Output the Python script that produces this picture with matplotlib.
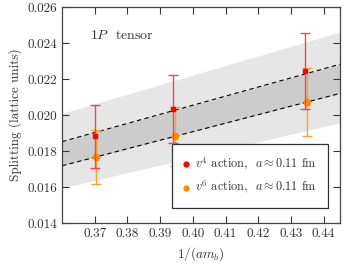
import numpy as np
import matplotlib
matplotlib.use('Agg')
import matplotlib.pyplot as plt
from matplotlib.lines import Line2D

plt.rcParams['font.family'] = 'serif'
plt.rcParams['font.serif'] = ['cmr10']
plt.rcParams['mathtext.fontset'] = 'cm'
plt.rcParams['axes.formatter.use_mathtext'] = True
plt.rcParams['font.size'] = 9.5

# v4 action, a ~ 0.11 fm
x_v4 = [0.3700, 0.3938, 0.4344]
y_v4 = [0.01883, 0.02033, 0.02245]
e_v4 = [0.00175, 0.00187, 0.00213]

# v6 action, a ~ 0.11 fm
x_v6 = [0.3703, 0.3944, 0.4350]
y_v6 = [0.01765, 0.01882, 0.02071]
e_v6 = [0.00150, 0.00164, 0.00188]

# fit lines / bands at the x-limits
x_band = [0.360, 0.445]
fit_hi = [0.01852, 0.02282]
fit_lo = [0.01718, 0.02120]
band_hi = [0.02009, 0.02461]
band_lo = [0.01594, 0.01957]

fig = plt.figure(figsize=(3.45, 2.64), dpi=100)
ax = fig.add_axes([62/345, 1-223/264, 278/345, 216/264])

ax.fill_between(x_band, band_lo, band_hi, color='#e6e6e6', lw=0, zorder=0)
ax.fill_between(x_band, fit_lo, fit_hi, color='#cccccc', lw=0, zorder=0)
ax.plot(x_band, fit_hi, 'k--', lw=0.8, dashes=(4, 3), zorder=1)
ax.plot(x_band, fit_lo, 'k--', lw=0.8, dashes=(4, 3), zorder=1)

ax.errorbar(x_v4, y_v4, yerr=e_v4, fmt='s', color='red', ms=3.5,
            ecolor='#f04848', elinewidth=1, capsize=3.5, capthick=1,
            zorder=3)
ax.errorbar(x_v6, y_v6, yerr=e_v6, fmt='o', color='#ff8c00', ms=4.5,
            ecolor='#ffa030', elinewidth=1, capsize=3.5, capthick=1,
            zorder=2)

ax.set_xlim(0.36, 0.445)
ax.set_ylim(0.014, 0.026)
ax.set_xticks(np.arange(0.37, 0.4451, 0.01))
ax.set_yticks(np.arange(0.014, 0.02601, 0.002))
ax.xaxis.set_major_formatter(matplotlib.ticker.FormatStrFormatter('%.2f'))
ax.yaxis.set_major_formatter(matplotlib.ticker.FormatStrFormatter('%.3f'))
ax.tick_params(direction='in', top=True, right=True, length=5, width=0.8,
               colors='#333333', labelcolor='#333333')
for s in ax.spines.values():
    s.set_color('#444444')
    s.set_linewidth(0.9)

ax.set_xlabel(r'$1/(am_b)$', color='#333333')
ax.set_ylabel('Splitting (lattice units)', color='#333333')
ax.text(0.1, 0.866, r'$1P$  tensor', transform=ax.transAxes, va='center',
        color='#333333', fontsize=10)

handles = [
    Line2D([], [], ls='none', marker='o', color='red', ms=3.5),
    Line2D([], [], ls='none', marker='o', color='#ff8c00', ms=3.5),
]
labels = [r'$v^4$ action,  $a\approx 0.11$ fm',
          r'$v^6$ action,  $a\approx 0.11$ fm']
leg = ax.legend(handles, labels, loc='lower right', bbox_to_anchor=(0.957, 0.069),
                fancybox=False, edgecolor='#333333', framealpha=1,
                handlelength=0.5, handletextpad=0.45, borderpad=0.95,
                labelspacing=0.5, borderaxespad=0, fontsize=8.8)
leg.get_frame().set_linewidth(0.9)
for t in leg.get_texts():
    t.set_color('#333333')

fig.savefig('out.png', dpi=100)
